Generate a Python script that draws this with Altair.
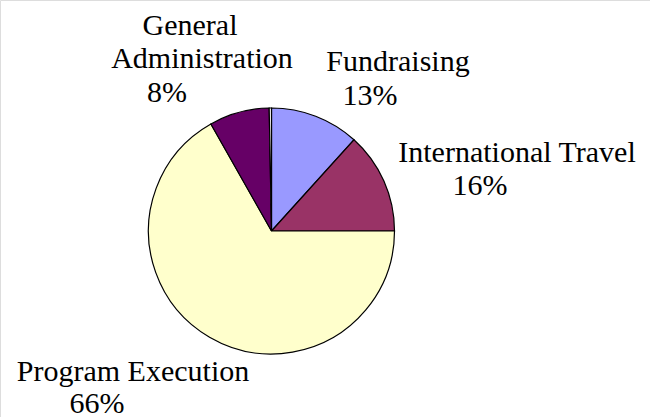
import altair as alt
import pandas as pd

categories = ["Fundraising", "International Travel", "Program Execution", "General Administration", "Other"]
values = [11.7, 13.3, 66.8, 7.9, 0.3]
colors = ["#9999FF", "#993366", "#FFFFCC", "#660066", "#FFFFFF"]
label_lines = {
    "Fundraising": ["Fundraising", "13%"],
    "International Travel": ["International Travel", "16%"],
    "Program Execution": ["Program Execution", "66%"],
    "General Administration": ["General", "Administration", "8%"],
}

df = pd.DataFrame({"category": categories, "value": values, "order": list(range(len(categories)))})

CX, CY, R = 271.5, 231, 123

pie = alt.Chart(df).mark_arc(stroke="black", strokeWidth=1.2).encode(
    theta=alt.Theta("value:Q", stack=True),
    order=alt.Order("order:Q"),
    color=alt.Color("category:N", scale=alt.Scale(domain=categories, range=colors), legend=None),
    x=alt.value(CX),
    y=alt.value(CY),
    radius=alt.value(R),
)

# label placement (layout only): (x-center, baseline) for each line
placements = {
    "Fundraising": [(398, 71), (370, 105)],
    "International Travel": [(517, 162), (480, 195)],
    "Program Execution": [(133, 381), (97, 413)],
    "General Administration": [(190, 35), (202, 68), (167, 102)],
}

layers = [pie]
for cat, lines in label_lines.items():
    for i, line in enumerate(lines):
        px, py = placements[cat][i]
        t = alt.Chart(pd.DataFrame({"t": [line]})).mark_text(
            font="Times New Roman", fontSize=30, color="black",
            align="center", baseline="alphabetic",
        ).encode(text="t:N", x=alt.value(px), y=alt.value(py))
        layers.append(t)

chart = alt.layer(*layers).properties(
    width=650, height=417,
    autosize=alt.AutoSizeParams(type="none"),
    padding=0,
).configure_view(stroke=None).configure(background="white", font="Times New Roman")

chart.save("out.html", embed_options={"renderer": "svg", "actions": False})
